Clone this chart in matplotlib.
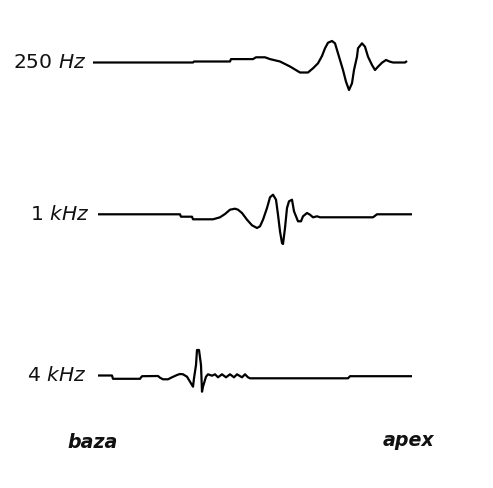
import matplotlib
matplotlib.use("Agg")
from matplotlib import pyplot as plt

# position along the basilar membrane and membrane displacement
pos_250 = [93, 193, 194, 230, 231, 253, 256, 265, 270, 280, 290, 300, 308, 313, 318, 322,
           325, 328, 332, 335, 337, 340, 343, 346, 349, 352, 354, 357, 358, 362, 365, 368,
           372, 375, 378, 382, 386, 390, 393, 405, 407]
disp_250 = [0, 0, 1, 1, 3.4, 3.4, 5.2, 5.2, 3.4, 1, -4, -10, -10, -5.8, -0.8, 6.5,
            14.2, 19.8, 21.5, 19.2, 12.5, 2.5, -7.5, -19.2, -27.5, -20.8, -7.5, 5.8, 14.2, 19.2, 15.8, 5.8,
            -2.5, -7.5, -4.2, -0.2, 2.5, 0.8, 0, 0, 1.5]

pos_1k = [98, 180, 181, 192, 193, 213, 220, 225, 230, 235, 238, 242, 247, 252, 257, 260,
          263, 267, 270, 273, 276, 278, 280, 282, 283, 285, 287, 289, 292, 294, 298, 301,
          303, 307, 310, 313, 317, 320, 373, 377, 412]
disp_1k = [0, 0, -2.4, -2.4, -5, -5, -3, 0.3, 4.6, 5.6, 4.6, 1.3, -5.4, -11, -13.7, -12,
           -5.4, 6.3, 17, 19.6, 14.6, -0.4, -17, -28.7, -29.7, -13.7, 6.3, 13, 14.6, 3, -7, -7,
           -2, 1.3, -0.4, -3, -2, -3, -3, 0, 0]

pos_4k = [98, 112, 113, 140, 142, 158, 160, 163, 168, 172, 177, 180, 183, 187, 190, 193,
          194, 196, 197, 199, 201, 202, 203, 206, 208, 212, 215, 218, 222, 226, 230, 234,
          237, 242, 245, 248, 250, 348, 350, 412]
disp_4k = [0, 0, -3.3, -3.3, -0.7, -0.5, -2.2, -3.8, -3.8, -1.8, 0.5, 1.5, 1.2, -1.2, -6.2, -11.2,
           -2.8, 10.5, 25.5, 25.5, 10.5, -16.2, -11.2, -1.2, 1.2, -0.2, 1.2, -1.8, 1.2, -1.8, 1.2, -1.8,
           1.2, -1.8, 1.2, -1.8, -2.8, -2.8, -0.7, -0.7]

labels = ["250 $\\mathit{Hz}$", "1 $\\mathit{kHz}$", "4 $\\mathit{kHz}$"]
baselines = [62.5, 214.3, 375.5]
label_x = [86, 89, 86]

fig = plt.figure(figsize=(4.93, 4.88), dpi=100)
ax = fig.add_axes([0, 0, 1, 1])
ax.set_xlim(0, 493)
ax.set_ylim(488, 0)
ax.axis("off")

traces = [(pos_250, disp_250), (pos_1k, disp_1k), (pos_4k, disp_4k)]
for (pos, disp), base, lab, lx in zip(traces, baselines, labels, label_x):
    ax.plot(pos, [base - d for d in disp], color="black", lw=1.6,
            solid_joinstyle="round", solid_capstyle="butt")
    ax.text(lx, base, lab, ha="right", va="center", fontsize=14.6, color="#111111")

ax.text(93, 442, "baza", ha="center", va="center", fontsize=13.7,
        style="italic", weight="bold", color="#111111")
ax.text(408, 440, "apex", ha="center", va="center", fontsize=13.7,
        style="italic", weight="bold", color="#111111")

fig.savefig("out.png", dpi=100)
